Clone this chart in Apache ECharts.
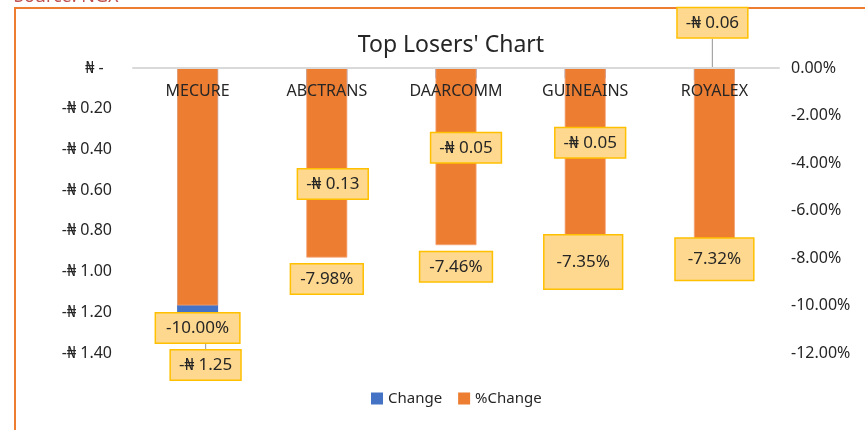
<!DOCTYPE html>
<html>
<head>
<meta charset="utf-8">
<script src="https://cdn.jsdelivr.net/npm/echarts@6/dist/echarts.min.js"></script>
<style>
  html, body { margin: 0; padding: 0; background: #fff; }
  #chart { width: 865px; height: 430px; }
</style>
</head>
<body>
<div id="chart"></div>
<script>
// data
const categories = ["MECURE", "ABCTRANS", "DAARCOMM", "GUINEAINS", "ROYALEX"];
const changeValues = [-1.25, -0.13, -0.05, -0.05, -0.06];      // naira
const pctChangeValues = [-10.0, -7.98, -7.46, -7.35, -7.32];    // percent

// axis ranges
const nairaMin = -1.4, nairaMax = 0, nairaStep = 0.2;
const pctMin = -12, pctMax = 0, pctStep = 2;

// label callout placement (styling only)
const changeLabelShift = [[8, 23], [6, 70], [10, 50], [5, 45], [-2, -77]];
const pctLabelShift = [[0, 3], [0, 2], [0, 2], [-2, -12], [0, -8]];
const pctLabelPad = [[6, 10], [6, 9], [6, 9], [18, 12], [12, 12]];

const FONT = "'Noto Sans', 'DejaVu Sans', sans-serif";
const TEXT = "#262626";

const fmtNaira = (v) => {
  if (Math.abs(v) < 1e-9) return "₦ -  ";
  return (v < 0 ? "-" : "") + "₦ " + Math.abs(v).toFixed(2);
};
const fmtPct = (v) => v.toFixed(2) + "%";

const calloutBox = {
  backgroundColor: "#FED88E",
  borderColor: "#FFC000",
  borderWidth: 1.5,
  color: TEXT,
  fontSize: 17,
  fontFamily: FONT,
};

const chart = echarts.init(document.getElementById("chart"));

chart.setOption({
  animation: false,
  textStyle: { fontFamily: FONT },
  title: {
    text: "Top Losers' Chart",
    left: 446,
    textAlign: "center",
    top: 29,
    textStyle: { fontSize: 23, fontWeight: "normal", color: TEXT, fontFamily: FONT },
  },
  legend: {
    bottom: 19,
    left: 366,
    icon: "rect",
    itemWidth: 12,
    itemHeight: 12,
    itemGap: 16,
    itemStyle: { borderWidth: 0 },
    textStyle: { fontSize: 15, color: TEXT, fontFamily: FONT },
    data: ["Change", "%Change"],
  },
  grid: { left: 133, right: 86, top: 68, bottom: 77 },
  xAxis: {
    type: "category",
    position: "top",
    z: 10,
    data: categories,
    axisLine: { show: true, lineStyle: { color: "#D9D9D9", width: 2 } },
    axisTick: { show: false },
    axisLabel: { inside: true, margin: 15, fontSize: 16, color: TEXT, fontFamily: FONT },
  },
  yAxis: [
    {
      type: "value",
      min: nairaMin,
      max: nairaMax,
      interval: nairaStep,
      splitLine: { show: false },
      axisLine: { show: false },
      axisTick: { show: false },
      axisLabel: { margin: 21, fontSize: 16, color: TEXT, fontFamily: FONT, formatter: fmtNaira },
    },
    {
      type: "value",
      min: pctMin,
      max: pctMax,
      interval: pctStep,
      splitLine: { show: false },
      axisLine: { show: false },
      axisTick: { show: false },
      axisLabel: { margin: 12, fontSize: 16, color: TEXT, fontFamily: FONT, formatter: fmtPct },
    },
  ],
  series: [
    {
      name: "Change",
      type: "bar",
      yAxisIndex: 0,
      barWidth: 41,
      barGap: "-100%",
      itemStyle: { color: "#4472C4" },
      data: changeValues,
      label: Object.assign({
        show: true,
        position: "outside",
        distance: 5,
        padding: [6, 8],
        formatter: (p) => fmtNaira(p.value),
      }, calloutBox),
      labelLine: { show: true, lineStyle: { color: "#A6A6A6", width: 1.2 } },
      labelLayout: (p) => ({
        dx: changeLabelShift[p.dataIndex][0],
        dy: changeLabelShift[p.dataIndex][1],
      }),
    },
    {
      name: "%Change",
      type: "bar",
      yAxisIndex: 1,
      barWidth: 41,
      barGap: "-100%",
      itemStyle: { color: "#ED7D31", borderColor: "#F4A576", borderWidth: 0.8 },
      data: pctChangeValues.map((v, i) => ({
        value: v,
        label: { padding: pctLabelPad[i] },
      })),
      label: Object.assign({
        show: true,
        position: "outside",
        distance: 5,
        formatter: (p) => fmtPct(p.value),
      }, calloutBox),
      labelLayout: (p) => ({
        dx: pctLabelShift[p.dataIndex][0],
        dy: pctLabelShift[p.dataIndex][1],
      }),
    },
  ],
  graphic: [
    {
      type: "rect",
      silent: true,
      shape: { x: 15, y: 8, width: 900, height: 500 },
      style: { fill: "none", stroke: "#ED7D31", lineWidth: 2 },
    },
    {
      type: "text",
      silent: true,
      x: 14,
      y: 6,
      style: {
        text: "Source: NGX",
        fontSize: 18,
        fill: "#C0504D",
        fontFamily: FONT,
        verticalAlign: "bottom",
      },
    },
  ],
});
</script>
</body>
</html>
